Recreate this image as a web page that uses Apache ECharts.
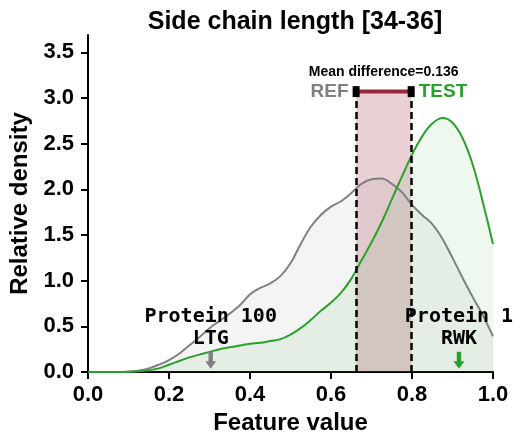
<!DOCTYPE html>
<html>
<head>
<meta charset="utf-8">
<script src="https://cdn.jsdelivr.net/npm/echarts@6/dist/echarts.min.js"></script>
<style>
  html, body { margin: 0; padding: 0; background: #fff; }
  #chart { width: 526px; height: 446px; }
</style>
</head>
<body>
<div id="chart"></div>
<script>
const featureX = [
  0.000, 0.025, 0.050, 0.075, 0.100, 0.125, 0.150, 0.175, 0.200, 0.225,
  0.250, 0.275, 0.300, 0.325, 0.350, 0.375, 0.400, 0.425, 0.450, 0.475,
  0.500, 0.525, 0.550, 0.575, 0.600, 0.625, 0.650, 0.675, 0.700, 0.725,
  0.750, 0.775, 0.800, 0.825, 0.850, 0.875, 0.900, 0.925, 0.950, 0.975, 1.000,
];
const refDensity = [
  0, 0, 0, 0, 0.003, 0.015, 0.04, 0.08, 0.13, 0.20,
  0.29, 0.38, 0.48, 0.56, 0.64, 0.73, 0.85, 0.92, 0.97, 1.05,
  1.19, 1.40, 1.59, 1.72, 1.81, 1.87, 1.96, 2.06, 2.11, 2.12,
  2.06, 1.97, 1.83, 1.72, 1.62, 1.46, 1.25, 1.03, 0.82, 0.62, 0.39,
];
const testDensity = [
  0, 0, 0, 0, 0.002, 0.008, 0.02, 0.04, 0.08, 0.12,
  0.16, 0.19, 0.22, 0.25, 0.27, 0.29, 0.31, 0.32, 0.34, 0.36,
  0.41, 0.48, 0.57, 0.67, 0.76, 0.87, 1.02, 1.22, 1.42, 1.64,
  1.89, 2.14, 2.38, 2.58, 2.72, 2.78, 2.73, 2.56, 2.27, 1.86, 1.40,
];
const refMean = 0.662;
const testMean = 0.798;
const meanBarLevel = 3.07;
const meanDiffText = 'Mean difference=0.136';
const refAnnotation = { x: 0.303, y: 0.13, text: 'Protein 100\nLTG' };
const testAnnotation = { x: 0.916, y: 0.13, text: 'Protein 1\nRWK' };
const yTicks = [0, 0.5, 1.0, 1.5, 2.0, 2.5, 3.0, 3.5];

const GRAY = '#808080';
const GREEN = '#2ca02c';
const BAR_RED = '#9b2838';
const SANS = '"Liberation Sans", Arial, sans-serif';
const MONO = '"DejaVu Sans Mono", monospace';
const ARROW = 'path://M3,0 L7,0 L7,9 L10,9 L5,16 L0,9 L3,9 Z';

const pairs = (ys) => featureX.map((x, i) => [x, ys[i]]);

function arrowMark(a, color) {
  return {
    silent: true,
    animation: false,
    symbol: ARROW,
    symbolSize: [11, 17],
    itemStyle: { color },
    label: {
      show: true,
      position: 'top',
      distance: 2,
      formatter: a.text,
      color: '#000',
      fontFamily: MONO,
      fontWeight: 'bold',
      fontSize: 20,
      lineHeight: 22,
      align: 'center',
    },
    data: [{ coord: [a.x, a.y] }],
  };
}

const chart = echarts.init(document.getElementById('chart'), null, { renderer: 'canvas' });

chart.setOption({
  animation: false,
  title: {
    text: 'Side chain length [34-36]',
    left: 290,
    textAlign: 'center',
    top: 5,
    textStyle: { fontFamily: SANS, fontWeight: 'bold', fontSize: 25, color: '#000' },
  },
  grid: { left: 87, right: 33, top: 35, bottom: 74 },
  xAxis: {
    type: 'value',
    min: 0,
    max: 1,
    interval: 0.2,
    name: 'Feature value',
    nameLocation: 'middle',
    nameGap: 38,
    nameTextStyle: { fontFamily: SANS, fontWeight: 'bold', fontSize: 24, color: '#000' },
    axisLine: { lineStyle: { color: '#000', width: 2 } },
    axisTick: { show: true, length: 7, lineStyle: { color: '#000', width: 2 } },
    axisLabel: {
      margin: 12,
      color: '#000',
      fontFamily: SANS,
      fontWeight: 'bold',
      fontSize: 22,
      formatter: (v) => v.toFixed(1),
    },
    splitLine: { show: false },
  },
  yAxis: {
    type: 'value',
    min: 0,
    max: 3.69,
    interval: 0.5,
    name: 'Relative density',
    nameLocation: 'middle',
    nameGap: 56,
    nameTextStyle: { fontFamily: SANS, fontWeight: 'bold', fontSize: 24, color: '#000' },
    axisLine: { show: true, lineStyle: { color: '#000', width: 2 } },
    axisTick: { show: true, length: 7, customValues: yTicks, lineStyle: { color: '#000', width: 2 } },
    axisLabel: {
      margin: 14,
      color: '#000',
      fontFamily: SANS,
      fontWeight: 'bold',
      fontSize: 22,
      customValues: yTicks,
      formatter: (v) => v.toFixed(1),
    },
    splitLine: { show: false },
  },
  series: [
    {
      name: 'REF',
      type: 'line',
      data: pairs(refDensity),
      smooth: 0.4,
      showSymbol: false,
      z: 2,
      lineStyle: { color: GRAY, width: 2 },
      areaStyle: { color: 'rgba(128,128,128,0.12)' },
      markPoint: arrowMark(refAnnotation, GRAY),
    },
    {
      name: 'TEST',
      type: 'line',
      data: pairs(testDensity),
      smooth: 0.4,
      showSymbol: false,
      z: 3,
      lineStyle: { color: GREEN, width: 2 },
      areaStyle: { color: 'rgba(44,160,44,0.11)' },
      markPoint: arrowMark(testAnnotation, GREEN),
    },
    {
      name: 'mean difference',
      type: 'line',
      z: 5,
      data: [
        {
          value: [refMean, meanBarLevel],
          label: {
            show: true, position: 'left', distance: 4, formatter: 'REF',
            color: GRAY, fontFamily: SANS, fontWeight: 'bold', fontSize: 19,
          },
        },
        {
          value: [testMean, meanBarLevel],
          label: {
            show: true, position: 'right', distance: 4, formatter: 'TEST',
            color: GREEN, fontFamily: SANS, fontWeight: 'bold', fontSize: 19,
          },
        },
      ],
      symbol: 'rect',
      symbolSize: [7, 11],
      itemStyle: { color: '#000' },
      lineStyle: { color: BAR_RED, width: 4 },
      markArea: {
        silent: true,
        itemStyle: { color: 'rgba(140,20,40,0.2)' },
        data: [[{ coord: [refMean, 0] }, { coord: [testMean, meanBarLevel] }]],
      },
      markLine: {
        silent: true,
        symbol: 'none',
        label: { show: false },
        lineStyle: { color: '#000', width: 2.5, type: [7, 4] },
        data: [
          [{ coord: [refMean, 0] }, { coord: [refMean, meanBarLevel] }],
          [{ coord: [testMean, 0] }, { coord: [testMean, meanBarLevel] }],
        ],
      },
      markPoint: {
        silent: true,
        symbolSize: 0,
        label: {
          show: true,
          offset: [0, -19],
          formatter: meanDiffText,
          color: '#000',
          fontFamily: SANS,
          fontWeight: 'bold',
          fontSize: 14,
        },
        data: [{ coord: [(refMean + testMean) / 2, meanBarLevel] }],
      },
    },
  ],
});
</script>
</body>
</html>
